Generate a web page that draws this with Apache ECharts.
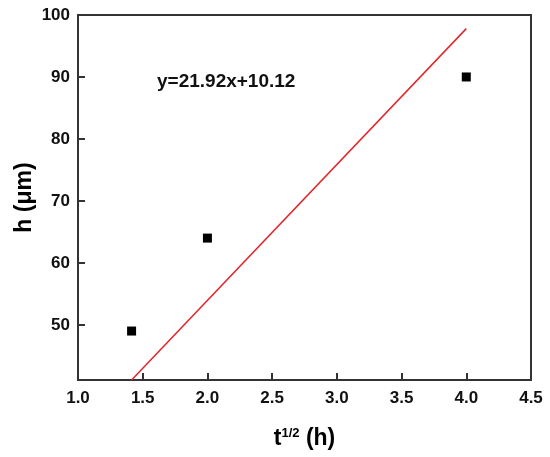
<!DOCTYPE html>
<html>
<head>
<meta charset="UTF-8" />
<title>h vs t^1/2</title>
<script src="https://cdn.jsdelivr.net/npm/echarts@6/dist/echarts.min.js"></script>
<style>
html, body { margin: 0; padding: 0; background: #fff; }
#chart { width: 550px; height: 457px; }
</style>
</head>
<body>
<div id="chart"></div>
<script>
// measured points: t^(1/2) vs h
var xValues = [1.414, 2.0, 4.0];
var hValues = [49, 64, 90];

// linear fit y = 21.92x + 10.12, drawn between these x
var fitSlope = 21.92;
var fitIntercept = 10.12;
var fitX = [1.414, 4.0];

var yTicks = [50, 60, 70, 80, 90, 100];
var fitLabel = "y=21.92x+10.12";

var points = xValues.map(function (x, i) { return [x, hValues[i]]; });
var fitLine = fitX.map(function (x) { return [x, fitSlope * x + fitIntercept]; });

var myChart = echarts.init(document.getElementById("chart"));

var font = "Liberation Sans, Arial, sans-serif";

var option = {
  animation: false,
  backgroundColor: "#fff",
  grid: { left: 78, right: 19, top: 15, bottom: 77, show: true, borderColor: "#333", borderWidth: 2 },
  xAxis: {
    type: "value",
    min: 1,
    max: 4.5,
    interval: 0.5,
    name: "{t|t}{s|1/2}{t| (h)}",
    nameLocation: "middle",
    nameGap: 47,
    nameTextStyle: {
      rich: {
        t: { fontFamily: font, fontWeight: "bold", fontSize: 23, color: "#000" },
        s: { fontFamily: font, fontWeight: "bold", fontSize: 13, color: "#000", verticalAlign: "top", padding: [0, 0, 10, 0] }
      }
    },
    axisLine: { show: true, onZero: false, lineStyle: { color: "#333", width: 2 } },
    axisTick: { show: true, inside: true, length: 7, lineStyle: { color: "#333", width: 2 } },
    axisLabel: {
      margin: 10,
      color: "#111",
      fontFamily: font,
      fontWeight: "bold",
      fontSize: 17,
      formatter: function (v) { return v.toFixed(1); }
    },
    splitLine: { show: false }
  },
  yAxis: {
    type: "value",
    min: 41.1,
    max: 100,
    name: "h (μm)",
    nameLocation: "middle",
    nameGap: 42,
    nameMoveOverlap: false,
    nameTextStyle: { fontFamily: font, fontWeight: "bold", fontSize: 23, color: "#000" },
    axisLine: { show: true, onZero: false, lineStyle: { color: "#333", width: 2 } },
    axisTick: { show: true, inside: true, length: 7, customValues: yTicks, lineStyle: { color: "#333", width: 2 } },
    axisLabel: {
      margin: 8,
      color: "#111",
      fontFamily: font,
      fontWeight: "bold",
      fontSize: 17,
      customValues: yTicks
    },
    splitLine: { show: false }
  },
  graphic: [
    {
      type: "text",
      left: 157,
      top: 72,
      style: { text: fitLabel, fontFamily: font, fontWeight: "bold", fontSize: 19, fill: "#111" }
    }
  ],
  series: [
    {
      type: "line",
      data: fitLine,
      symbol: "none",
      lineStyle: { color: "#e0262b", width: 1.5 },
      z: 2
    },
    {
      type: "scatter",
      data: points,
      symbol: "rect",
      symbolSize: 9,
      itemStyle: { color: "#000", opacity: 1 },
      z: 3
    }
  ]
};

myChart.setOption(option);
</script>
</body>
</html>
